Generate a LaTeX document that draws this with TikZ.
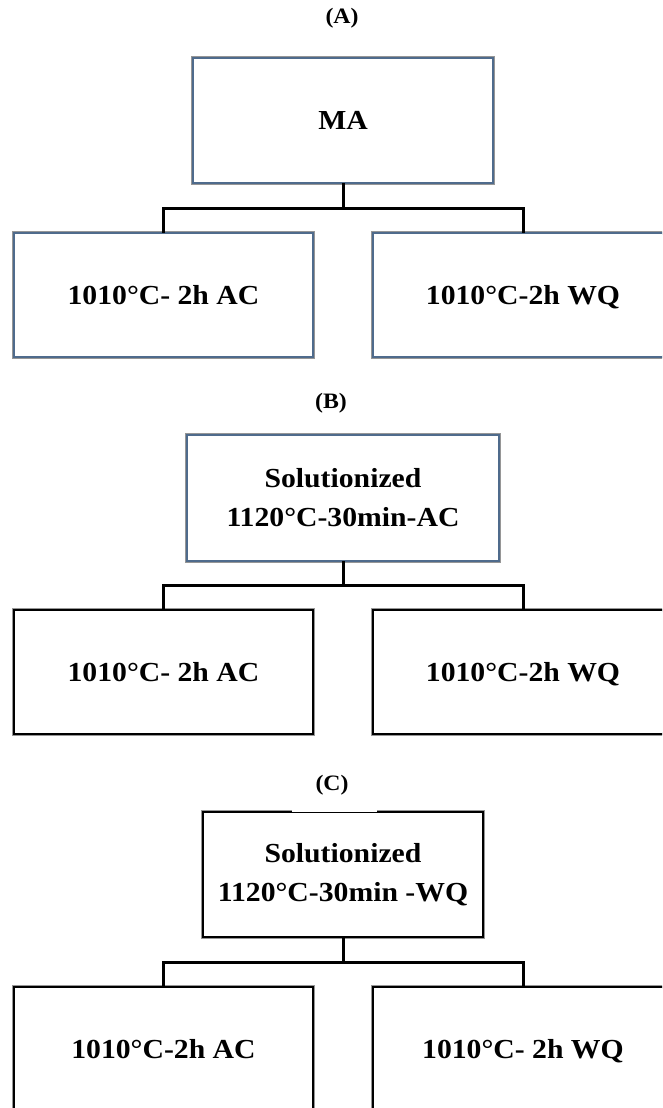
\documentclass[tikz,border=0pt]{standalone}
\usepackage{fontspec}
\setmainfont{Liberation Serif}
\newfontfamily\bx[FakeStretch=1.08]{Liberation Serif}
\newcommand\nodepth[1]{\raisebox{0pt}[\height][0pt]{#1}}
\definecolor{boxblue}{RGB}{79,107,140}
\definecolor{halo}{RGB}{150,150,150}
\begin{document}
\begin{tikzpicture}[x=1pt,y=-1pt,
  bluebox/.style={rectangle, inner sep=0pt, outer sep=0pt, fill=white,
    preaction={draw=halo, line width=3.8pt}, draw=boxblue, line width=2.5pt,
    font=\bx\bfseries\fontsize{27.5}{39}\selectfont, align=center},
  blackbox/.style={rectangle, inner sep=0pt, outer sep=0pt, fill=white,
    preaction={draw=halo, line width=3.6pt}, draw=black, line width=2.6pt,
    font=\bx\bfseries\fontsize{27.5}{39}\selectfont, align=center},
  panel/.style={font=\bx\bfseries\fontsize{22}{26}\selectfont},
  conn/.style={draw=black, line width=3pt}
]
\useasboundingbox (0,0) rectangle (662,1108);
\clip (0,0) rectangle (662,1108);
\fill[white] (0,0) rectangle (662,1108);

% ---------- Panel A ----------
\node[panel] (labA) at (342,18) {(A)};
\node[bluebox, minimum width=300pt, minimum height=125pt] (ma) at (343,120.5) {MA};
\node[bluebox, minimum width=299pt, minimum height=124pt] (a1) at (163.5,295) {1010°C- 2h AC};
\node[bluebox, minimum width=300pt, minimum height=124pt] (a2) at (523,295) {\nodepth{1010°C-2h WQ}};
\coordinate (barA) at (343,208);
\draw[conn] (ma.south) -- (barA);
\draw[conn] (barA) -| (a1.north);
\draw[conn] (barA) -| (a2.north);

% ---------- Panel B ----------
\node[panel] (labB) at (331,403) {(B)};
\node[bluebox, minimum width=312pt, minimum height=126pt] (b0) at (343,498) {Solutionized\\1120°C-30min-AC};
\node[blackbox, minimum width=299pt, minimum height=124pt] (b1) at (163.5,672) {1010°C- 2h AC};
\node[blackbox, minimum width=300pt, minimum height=124pt] (b2) at (523,672) {\nodepth{1010°C-2h WQ}};
\coordinate (barB) at (343,585);
\draw[conn] (b0.south) -- (barB);
\draw[conn] (barB) -| (b1.north);
\draw[conn] (barB) -| (b2.north);

% ---------- Panel C ----------
\node[blackbox, minimum width=280pt, minimum height=125pt] (c0) at (343,874.5) {Solutionized\\1120°C-30min -WQ};
\draw[white, line width=4pt] (292,812) -- (377,812);
\draw[black, line width=1pt] (292,812) -- (377,812);
\node[panel] (labC) at (332,785) {(C)};
\node[blackbox, minimum width=299pt, minimum height=124pt] (c1) at (163.5,1049) {1010°C-2h AC};
\node[blackbox, minimum width=300pt, minimum height=124pt] (c2) at (523,1049) {\nodepth{1010°C- 2h WQ}};
\coordinate (barC) at (343,962);
\draw[conn] (c0.south) -- (barC);
\draw[conn] (barC) -| (c1.north);
\draw[conn] (barC) -| (c2.north);
\end{tikzpicture}
\end{document}
